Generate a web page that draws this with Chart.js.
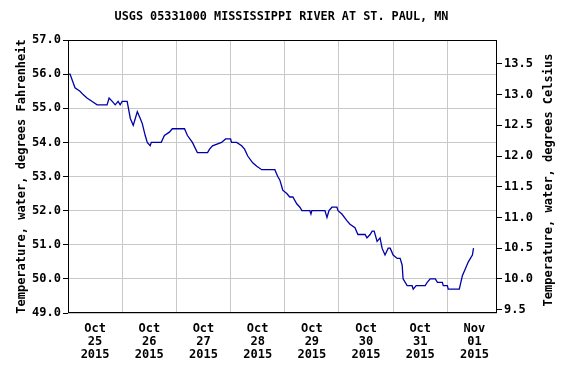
<!DOCTYPE html>
<html>
<head>
<meta charset="utf-8">
<script src="https://cdn.jsdelivr.net/npm/chart.js@4/dist/chart.umd.min.js"></script>
<style>
  body { margin: 0; background: #fff; }
</style>
</head>
<body>
<canvas id="chart" width="563" height="366"></canvas>
<script>
// hours since Oct 25 2015 00:00
const hours = [0, 0.9, 3.1, 5.3, 6.7, 8.4, 10.7, 12.9, 17.3, 18.2, 19.6, 20.9, 22.2, 23.1, 24.0, 26.2,
  27.6, 28.9, 29.8, 30.7, 32.0, 32.9, 34.2, 35.1, 36.4, 36.9, 41.3, 42.7, 44.9, 46.2, 51.6, 52.9,
  55.1, 57.3, 61.8, 62.7, 64.0, 68.0, 69.8, 72.0, 72.4, 74.7, 76.9, 78.2, 79.6, 81.8, 83.6, 85.8,
  91.6, 92.9, 93.8, 94.7, 95.1, 96.9, 98.2, 99.6, 101.3, 102.7, 103.6, 107.1, 107.6, 108.0, 113.8,
  114.7, 115.6, 116.9, 119.1, 119.6, 121.3, 123.6, 124.9, 127.1, 128.4, 131.6, 132.4, 133.8, 134.7,
  135.6, 136.9, 138.2, 139.1, 140.4, 141.8, 142.7, 144.0, 145.8, 147.1, 148.0, 148.4, 150.2, 152.4,
  152.9, 154.2, 158.2, 159.1, 160.4, 162.7, 163.6, 165.8, 166.2, 168.0, 168.4, 173.3, 174.7, 176.0,
  177.3, 179.1, 179.6];
const tempF = [56.0, 56.0, 55.6, 55.5, 55.4, 55.3, 55.2, 55.1, 55.1, 55.3, 55.2, 55.1, 55.2, 55.1, 55.2, 55.2,
  54.7, 54.5, 54.7, 54.9, 54.7, 54.55, 54.2, 54.0, 53.9, 54.0, 54.0, 54.2, 54.3, 54.4, 54.4, 54.2,
  54.0, 53.7, 53.7, 53.8, 53.9, 54.0, 54.1, 54.1, 54.0, 54.0, 53.9, 53.8, 53.6, 53.4, 53.3, 53.2,
  53.2, 53.0, 52.9, 52.7, 52.6, 52.5, 52.4, 52.4, 52.2, 52.1, 52.0, 52.0, 51.9, 52.0, 52.0,
  51.8, 52.0, 52.1, 52.1, 52.0, 51.9, 51.7, 51.6, 51.5, 51.3, 51.3, 51.2, 51.3, 51.4,
  51.4, 51.1, 51.2, 50.9, 50.7, 50.9, 50.9, 50.7, 50.6, 50.6, 50.4, 50.0, 49.8, 49.8,
  49.7, 49.8, 49.8, 49.9, 50.0, 50.0, 49.9, 49.9, 49.8, 49.8, 49.7, 49.7, 50.1, 50.3,
  50.5, 50.7, 50.9];

const dayLabels = [['Oct', '25', '2015'], ['Oct', '26', '2015'], ['Oct', '27', '2015'], ['Oct', '28', '2015'],
  ['Oct', '29', '2015'], ['Oct', '30', '2015'], ['Oct', '31', '2015'], ['Nov', '01', '2015']];
const xTicks = [12, 24, 36, 48, 60, 72, 84, 96, 108, 120, 132, 144, 156, 168, 180];
const fTicks = [49, 50, 51, 52, 53, 54, 55, 56, 57];
const cTicks = [9.5, 10, 10.5, 11, 11.5, 12, 12.5, 13, 13.5];

const fontMono = 'DejaVu Sans Mono';
const toC = (f) => (f - 32) / 1.8;

// frame round the plot + right axis title (reads bottom to top like the left one)
const frame = {
  id: 'frame',
  afterDraw(chart) {
    const { ctx, chartArea: { left, top, width, height } } = chart;
    ctx.save();
    ctx.strokeStyle = '#000';
    ctx.lineWidth = 1;
    ctx.strokeRect(left + 0.5, top + 0.5, width - 1, height - 1);
    ctx.translate(549, 180);
    ctx.rotate(-Math.PI / 2);
    ctx.font = `bold 12px ${fontMono}`;
    ctx.fillStyle = '#000';
    ctx.textAlign = 'center';
    ctx.textBaseline = 'middle';
    ctx.fillText('Temperature, water, degrees Celsius', 0, 0);
    ctx.restore();
  },
};

new Chart(document.getElementById('chart'), {
  type: 'line',
  data: {
    datasets: [{
      data: hours.map((h, i) => ({ x: h, y: tempF[i] })),
      borderColor: '#0000a8',
      borderWidth: 1.3,
      pointRadius: 0,
      tension: 0,
    }],
  },
  options: {
    responsive: false,
    animation: false,
    layout: { padding: 0 },
    plugins: {
      legend: { display: false },
      tooltip: { enabled: false },
      title: {
        display: true,
        text: 'USGS 05331000 MISSISSIPPI RIVER AT ST. PAUL, MN',
        color: '#000',
        font: { family: fontMono, size: 11.8, weight: 'bold', lineHeight: 1.25 },
        padding: { top: 10, bottom: 15.25 },
      },
    },
    scales: {
      x: {
        type: 'linear',
        min: 0,
        max: 190,
        afterBuildTicks(scale) { scale.ticks = xTicks.map((v) => ({ value: v })); },
        afterFit(scale) { scale.height = 53; },
        border: { display: false },
        grid: {
          drawTicks: false,
          color: (c) => (c.tick && c.tick.value % 24 === 0 ? '#c8c8c8' : 'rgba(0,0,0,0)'),
        },
        ticks: {
          autoSkip: false,
          maxRotation: 0,
          padding: 9,
          color: '#000',
          font: { family: fontMono, size: 12, weight: 'bold', lineHeight: 1.1 },
          callback: (v) => (v % 24 === 12 ? dayLabels[(v - 12) / 24] : ''),
        },
      },
      y: {
        position: 'left',
        min: 49,
        max: 57,
        afterBuildTicks(scale) { scale.ticks = fTicks.map((v) => ({ value: v })); },
        afterFit(scale) { scale.width = 68; },
        border: { display: false },
        grid: { color: '#c8c8c8', tickColor: '#000', tickLength: 5 },
        ticks: {
          padding: 2,
          color: '#000',
          font: { family: fontMono, size: 12, weight: 'bold' },
          callback: (v) => v.toFixed(1),
        },
        title: {
          display: true,
          text: 'Temperature, water, degrees Fahrenheit',
          color: '#000',
          padding: { top: 15, bottom: 0 },
          font: { family: fontMono, size: 12, weight: 'bold' },
        },
      },
      y2: {
        position: 'right',
        min: toC(49),
        max: toC(57),
        afterBuildTicks(scale) { scale.ticks = cTicks.map((v) => ({ value: v })); },
        afterFit(scale) { scale.width = 66; },
        border: { display: false },
        grid: { drawOnChartArea: false, tickColor: '#000', tickLength: 5 },
        ticks: {
          padding: 2,
          color: '#000',
          font: { family: fontMono, size: 12, weight: 'bold' },
          callback: (v) => v.toFixed(1),
        },
      },
    },
  },
  plugins: [frame],
});
</script>
</body>
</html>
